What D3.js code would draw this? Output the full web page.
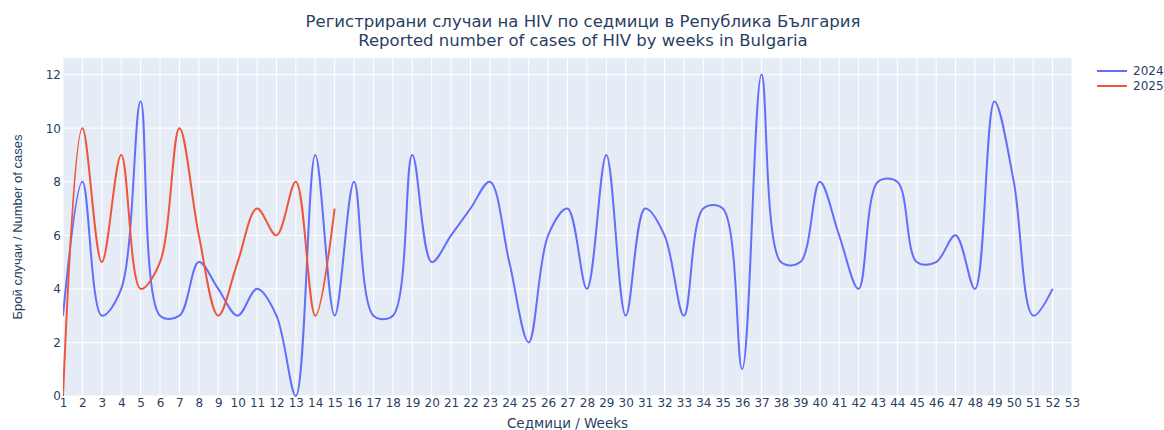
<!DOCTYPE html>
<html>
<head>
<meta charset="utf-8">
<script src="https://cdn.jsdelivr.net/npm/d3@7"></script>
<style>
  html, body { margin: 0; padding: 0; background: #fff; }
  svg { display: block; }
</style>
</head>
<body>
<svg id="chart" width="1164" height="430"></svg>
<script>
// ---- Data ----
const weeks = d3.range(1, 54);            // tick labels 1..53
const weeks2024 = d3.range(1, 53);        // 1..52
const cases2024 = [3, 8, 3, 4, 11, 3, 3, 5, 4, 3, 4, 3, 0, 9, 3, 8, 3, 3, 9, 5,
                   6, 7, 8, 5, 2, 6, 7, 4, 9, 3, 7, 6, 3, 7, 7, 1, 12, 5, 5, 8,
                   6, 4, 8, 8, 5, 5, 6, 4, 11, 8, 3, 4];
const weeks2025 = d3.range(1, 16);        // 1..15
const cases2025 = [0, 10, 5, 9, 4, 5, 10, 6, 3, 5, 7, 6, 8, 3, 7];
const yTicks = [0, 2, 4, 6, 8, 10, 12];
const seriesNames = ["2024", "2025"];
const seriesColors = ["#636efa", "#EF553B"];
const titleLines = ["Регистрирани случаи на HIV по седмици в Република България",
                    "Reported number of cases of HIV by weeks in Bulgaria"];
const xTitle = "Седмици / Weeks";
const yTitle = "Брой случаи / Number of cases";

// ---- Layout ----
const svg = d3.select("#chart");
const W = 1164, H = 430;
const m = { left: 63, right: 92, top: 58, bottom: 34 };
const pw = W - m.left - m.right, ph = H - m.top - m.bottom;
const FONT = "'DejaVu Sans', Verdana, sans-serif";
const TXT = "#2a3f5f";

const x = d3.scaleLinear().domain([1, 53]).range([m.left, m.left + pw]);
const y = d3.scaleLinear().domain([0, 12.62]).range([m.top + ph, m.top]);

// Plotly-like spline curve (centripetal Catmull-Rom, smoothing 1)
function PlotlySpline(context) { this._context = context; }
PlotlySpline.prototype = {
  areaStart() {}, areaEnd() {},
  lineStart() { this._pts = []; },
  point(px, py) { this._pts.push([+px, +py]); },
  lineEnd() {
    const pts = this._pts, c = this._context, n = pts.length;
    if (!n) return;
    c.moveTo(pts[0][0], pts[0][1]);
    if (n < 3) { for (let i = 1; i < n; i++) c.lineTo(pts[i][0], pts[i][1]); return; }
    const exp = 0.5, s = 1;
    const tang = [];
    for (let i = 1; i < n - 1; i++) {
      const p = pts[i - 1], t = pts[i], q = pts[i + 1];
      const d1x = p[0] - t[0], d1y = p[1] - t[1], d2x = q[0] - t[0], d2y = q[1] - t[1];
      const d1a = Math.pow(d1x * d1x + d1y * d1y, exp / 2);
      const d2a = Math.pow(d2x * d2x + d2y * d2y, exp / 2);
      const numx = (d2a * d2a * d1x - d1a * d1a * d2x) * s;
      const numy = (d2a * d2a * d1y - d1a * d1a * d2y) * s;
      const den1 = 3 * d2a * (d1a + d2a), den2 = 3 * d1a * (d1a + d2a);
      tang.push([
        [t[0] + (den1 && numx / den1), t[1] + (den1 && numy / den1)],
        [t[0] - (den2 && numx / den2), t[1] - (den2 && numy / den2)]
      ]);
    }
    c.quadraticCurveTo(tang[0][0][0], tang[0][0][1], pts[1][0], pts[1][1]);
    for (let i = 2; i < n - 1; i++) {
      const a = tang[i - 2][1], b = tang[i - 1][0];
      c.bezierCurveTo(a[0], a[1], b[0], b[1], pts[i][0], pts[i][1]);
    }
    const last = tang[n - 3][1];
    c.quadraticCurveTo(last[0], last[1], pts[n - 1][0], pts[n - 1][1]);
  }
};
const curvePlotly = ctx => new PlotlySpline(ctx);

// ---- Plot background ----
svg.append("rect").attr("x", m.left).attr("y", m.top).attr("width", pw).attr("height", ph)
  .attr("fill", "#E5ECF6");

// grid
const grid = svg.append("g");
grid.selectAll("line.vx").data(weeks).join("line")
  .attr("x1", d => x(d)).attr("x2", d => x(d))
  .attr("y1", m.top).attr("y2", m.top + ph)
  .attr("stroke", "#fff").attr("stroke-width", 1);
grid.selectAll("line.hy").data(yTicks).join("line")
  .attr("x1", m.left).attr("x2", m.left + pw)
  .attr("y1", d => y(d)).attr("y2", d => y(d))
  .attr("stroke", "#fff").attr("stroke-width", 1);

// axes (labels only)
const xAxis = d3.axisBottom(x).tickValues(weeks).tickFormat(d3.format("d")).tickSize(0).tickPadding(2);
const gx = svg.append("g").attr("transform", `translate(0,${m.top + ph})`).call(xAxis);
gx.select(".domain").remove();
gx.selectAll("text").attr("fill", TXT).style("font-family", FONT).style("font-size", "12px");

const yAxis = d3.axisLeft(y).tickValues(yTicks).tickFormat(d3.format("d")).tickSize(0).tickPadding(2);
const gy = svg.append("g").attr("transform", `translate(${m.left},0)`).call(yAxis);
gy.select(".domain").remove();
gy.selectAll("text").attr("fill", TXT).style("font-family", FONT).style("font-size", "12px");

// lines
const clip = svg.append("clipPath").attr("id", "clip").append("rect")
  .attr("x", m.left).attr("y", m.top - 2).attr("width", pw).attr("height", ph + 4);
const line = d3.line().x(d => x(d[0])).y(d => y(d[1])).curve(curvePlotly);
const series = [
  d3.zip(weeks2024, cases2024),
  d3.zip(weeks2025, cases2025)
];
svg.append("g").attr("clip-path", "url(#clip)")
  .selectAll("path").data(series).join("path")
  .attr("d", line).attr("fill", "none")
  .attr("stroke", (d, i) => seriesColors[i]).attr("stroke-width", 2)
  .attr("stroke-linejoin", "round");

// titles
svg.append("text").attr("x", W / 2 + 1).attr("y", 27).attr("text-anchor", "middle")
  .attr("fill", TXT).style("font-family", FONT).style("font-size", "16.5px")
  .selectAll("tspan").data(titleLines).join("tspan")
  .attr("x", W / 2 + 1).attr("dy", (d, i) => i ? "1.16em" : 0).text(d => d);

svg.append("text").attr("x", m.left + pw / 2).attr("y", 428)
  .attr("text-anchor", "middle").attr("fill", TXT)
  .style("font-family", FONT).style("font-size", "13.5px").text(xTitle);

svg.append("text").attr("transform", `translate(22,${m.top + ph / 2}) rotate(-90)`)
  .attr("text-anchor", "middle").attr("fill", TXT)
  .style("font-family", "'Liberation Sans', Arial, sans-serif").style("font-size", "13px").text(yTitle);

// legend
const lg = svg.append("g").attr("transform", "translate(1097,71)");
const li = lg.selectAll("g").data(seriesNames).join("g")
  .attr("transform", (d, i) => `translate(0,${i * 15})`);
li.append("line").attr("x1", 0).attr("x2", 30).attr("y1", 0).attr("y2", 0)
  .attr("stroke", (d, i) => seriesColors[i]).attr("stroke-width", 2);
li.append("text").attr("x", 36).attr("y", 0).attr("dy", "0.35em")
  .attr("fill", TXT).style("font-family", FONT).style("font-size", "12px").text(d => d);
</script>
</body>
</html>
